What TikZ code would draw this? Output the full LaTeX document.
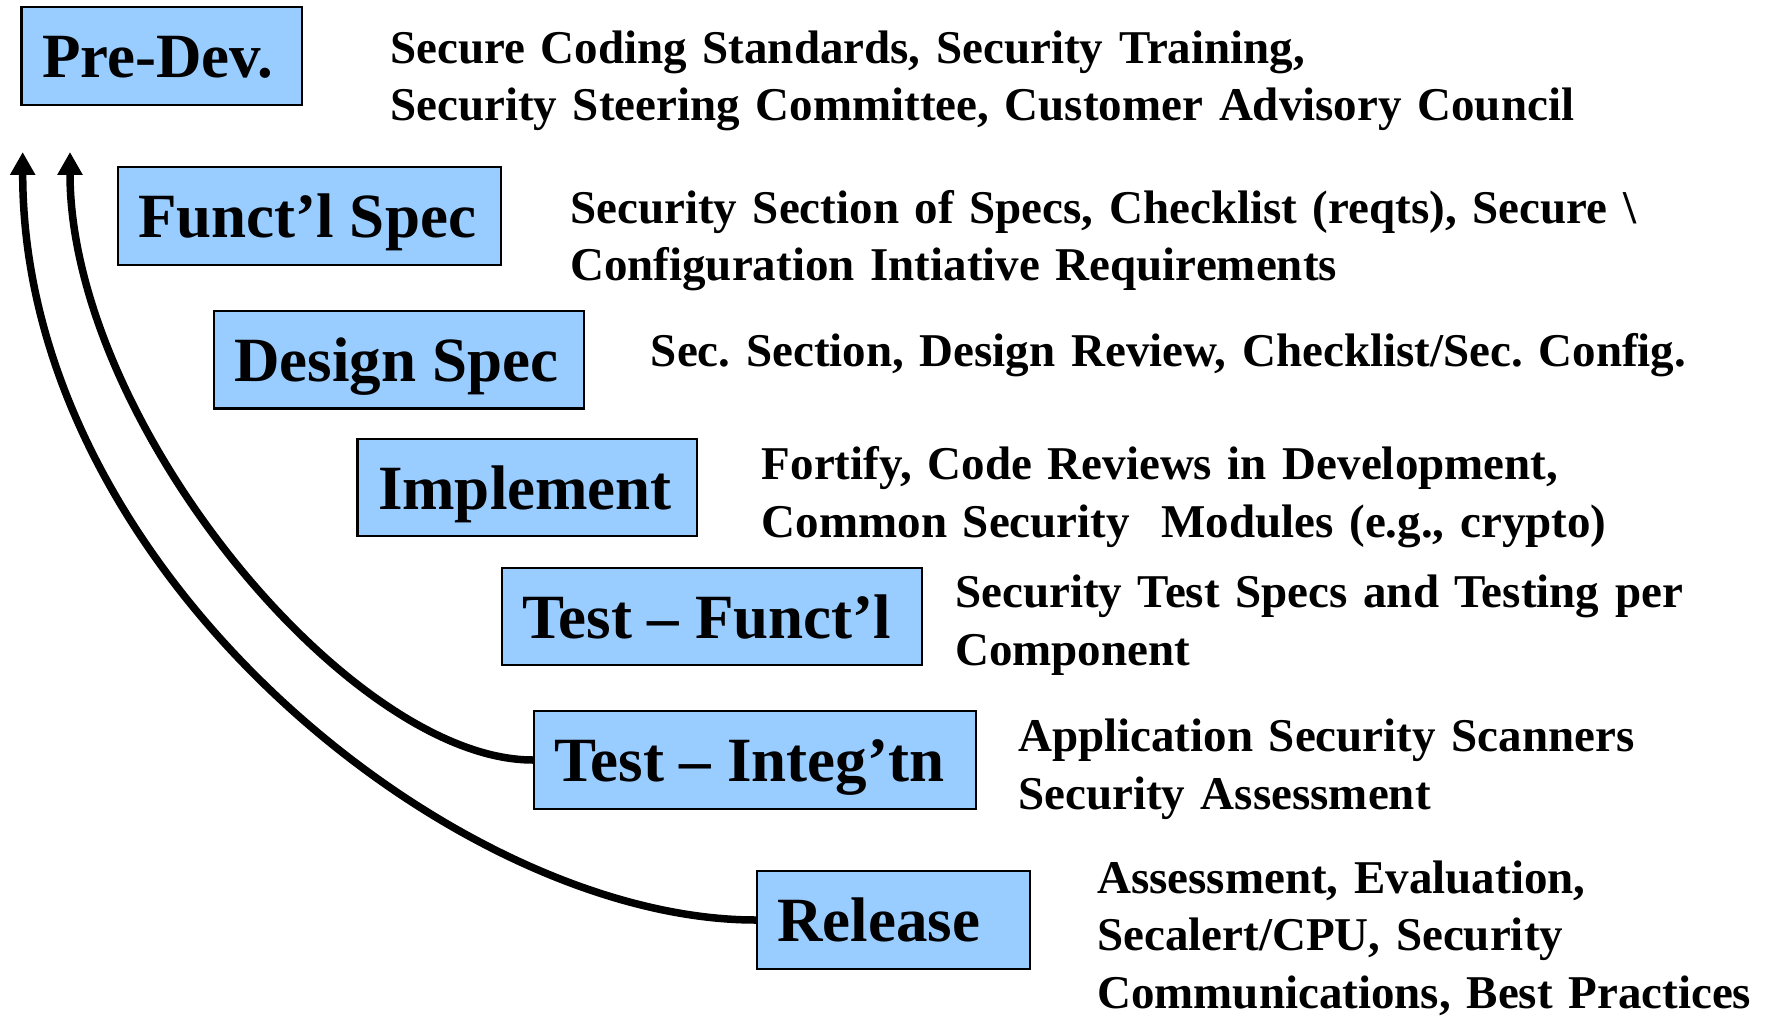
\documentclass[tikz,border=0pt]{standalone}
\usepackage{fontspec}
\setmainfont{Liberation Serif}
\usetikzlibrary{arrows.meta}
\definecolor{boxblue}{HTML}{99CCFF}
\newcommand{\phasetext}[2]{\makebox[#1][l]{#2}}
\begin{document}
\frenchspacing
\begin{tikzpicture}[x=1pt,y=-1pt,
  phase/.style={draw=black, line width=2.4pt, fill=boxblue, inner xsep=20.5pt, inner ysep=0pt,
    font=\fontsize{63}{70}\selectfont\bfseries, text height=43pt, text depth=0pt},
  desc/.style={anchor=base west, align=left, inner sep=0pt, text width=1300pt,
    font=\fontsize{47}{57.5}\selectfont\bfseries},
  loopback/.style={line width=7.5pt, -{Triangle[width=24pt,length=23pt]}}]
\useasboundingbox (0,0) rectangle (1774,1016);
% phase boxes
\node[phase, minimum height=98pt] (pre) at (161.75,56) {\phasetext{239.5pt}{Pre-Dev.}};
\node[phase, minimum height=98pt] (fspec) at (309.4,216) {\phasetext{342.3pt}{Funct’l Spec}};
\node[phase, minimum height=97.5pt] (dspec) at (399,359.75) {\phasetext{329pt}{Design Spec}};
\node[phase, minimum height=97pt] (impl) at (527.25,487.5) {\phasetext{298.5pt}{Implement}};
\node[phase, minimum height=97pt] (tfunc) at (712,616.5) {\phasetext{379pt}{Test – Funct’l}};
\node[phase, minimum height=98pt] (tinteg) at (755,760) {\phasetext{401pt}{Test – Integ’tn}};
\node[phase, minimum height=97.5pt] (rel) at (893.5,920) {\phasetext{232pt}{Release}};
% descriptions
\node[desc] (d1) at (390,63.3) {Secure Coding Standards, Security Training,\\Security Steering Committee, Customer Advisory Council};
\node[desc] (d2) at (570,223.3) {Security Section of Specs, Checklist (reqts), Secure \textbackslash\\Configuration Intiative Requirements};
\node[desc] (d3) at (650.7,366.7) {Sec. Section, Design Review, Checklist/Sec. Config.};
\node[desc] (d4) at (761.7,479.5) {Fortify, Code Reviews in Development,\\Common Security~~Modules (e.g., crypto)};
\node[desc] (d5) at (955,607.5) {Security Test Specs and Testing per\\Component};
\node[desc] (d6) at (1018,751.7) {Application Security Scanners\\Security Assessment};
\node[desc] (d7) at (1097,893) {Assessment, Evaluation,\\Secalert/CPU, Security\\Communications, Best Practices};
% loop-back arrows
\coordinate (tipA) at (22.7,152);
\coordinate (tipB) at (70,152);
\draw[loopback] (rel.west) .. controls +(-300,0) and +(0,420) .. (tipA);
\draw[loopback] (tinteg.west) .. controls +(-184,0) and +(0,268) .. (tipB);
\end{tikzpicture}
\end{document}
